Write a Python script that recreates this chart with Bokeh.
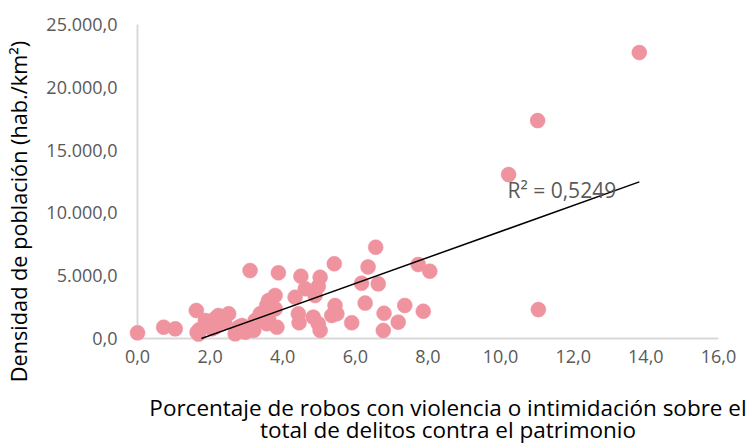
from bokeh.plotting import figure
from bokeh.models import (ColumnDataSource, FixedTicker, CustomJSTickFormatter, Label, Range1d)
from bokeh.embed import file_html
from bokeh.resources import INLINE
import math

# ---- data ----
robos_pct = [0.00, 0.72, 1.04, 1.62, 1.64, 1.68, 1.70, 1.87, 1.95, 2.05, 2.14, 2.14, 2.23, 2.33,
             2.40, 2.51, 2.69, 2.78, 2.88, 2.97, 3.10, 3.20, 3.24, 3.38, 3.56, 3.56, 3.61, 3.61,
             3.79, 3.79, 3.84, 3.88, 4.34, 4.43, 4.45, 4.50, 4.62, 4.84, 4.89, 4.98, 4.98, 5.03,
             5.03, 5.35, 5.42, 5.44, 5.49, 5.90, 6.17, 6.27, 6.35, 6.56, 6.63, 6.77, 6.79, 7.18,
             7.36, 7.73, 7.87, 8.05, 10.22, 11.02, 11.04, 13.82]
densidad = [450, 900, 770, 2230, 500, 350, 700, 1430, 1000, 770, 1590, 900, 1830, 1700,
            1300, 1970, 370, 900, 1030, 500, 5410, 650, 1430, 1970, 2630, 1170, 1570, 3020,
            3420, 2360, 900, 5230, 3290, 1970, 1250, 4960, 3960, 1700, 3420, 4150, 1170, 4880,
            640, 1830, 5950, 2630, 1970, 1250, 4400, 2820, 5700, 7270, 4350, 640, 2010, 1300,
            2630, 5890, 2170, 5360, 13050, 17350, 2300, 22770]

x_ticks = [0, 2, 4, 6, 8, 10, 12, 14, 16]
y_ticks = [0, 5000, 10000, 15000, 20000, 25000]

trend_slope = 1034.0
trend_intercept = -1820.0
r2_text = "R² = 0,5249"

x_title_lines = ["Porcentaje de robos con violencia o intimidación sobre el",
                 "total de delitos contra el patrimonio"]
y_title = "Densidad de población (hab./km²)"

# ---- layout / styling ----
W, H = 752, 446
X0_PX, X_PX_PER_UNIT = 137.0, 36.31     # pixel of x=0, pixels per x unit
Y0_PX, Y_UNITS_PER_PX = 338.0, 79.62    # pixel of y=0, y units per pixel

FONT = "Open Sans"
POINT_COLOR = "#EF939E"
AXIS_COLOR = "#D9D9D9"
TICK_COLOR = "#595959"

x_range = Range1d(-X0_PX / X_PX_PER_UNIT, (W - X0_PX) / X_PX_PER_UNIT)
y_range = Range1d(-(H - Y0_PX) * Y_UNITS_PER_PX, Y0_PX * Y_UNITS_PER_PX)

def xd(px):
    return (px - X0_PX) / X_PX_PER_UNIT

def yd(py):
    return (Y0_PX - py) * Y_UNITS_PER_PX

p = figure(width=W, height=H, output_backend="svg", toolbar_location=None,
           x_range=x_range, y_range=y_range,
           min_border=0, min_border_left=0, min_border_right=0,
           min_border_top=0, min_border_bottom=0)
p.outline_line_color = None
p.xgrid.visible = False
p.ygrid.visible = False
p.background_fill_color = "white"
p.border_fill_color = "white"

# axes placed at the data origin
for ax in (p.xaxis[0], p.yaxis[0]):
    ax.fixed_location = 0
    ax.axis_line_color = None
    ax.major_tick_out = 0
    ax.major_tick_in = 0
    ax.minor_tick_out = 0
    ax.minor_tick_in = 0
    ax.major_label_text_font = FONT
    ax.major_label_text_font_size = "18px"
    ax.major_label_text_color = TICK_COLOR

p.xaxis[0].bounds = (x_ticks[0], x_ticks[-1])
p.yaxis[0].bounds = (y_ticks[0], y_ticks[-1])
p.xaxis[0].ticker = FixedTicker(ticks=x_ticks)
p.yaxis[0].ticker = FixedTicker(ticks=y_ticks)
p.xaxis[0].major_label_standoff = 11
p.yaxis[0].major_label_standoff = 20
p.xaxis[0].formatter = CustomJSTickFormatter(code="return tick.toFixed(1).replace('.', ',');")
p.yaxis[0].formatter = CustomJSTickFormatter(code=r"""
const s = tick.toFixed(1).split('.');
const i = s[0].replace(/\B(?=(\d{3})+(?!\d))/g, '.');
return i + ',' + s[1];
""")

# axis lines (under the points)
p.segment(x0=[x_ticks[0], x_ticks[0]], y0=[y_ticks[0], y_ticks[0]],
          x1=[x_ticks[-1], x_ticks[0]], y1=[y_ticks[0], y_ticks[-1]],
          line_color=AXIS_COLOR, line_width=2)

# points
src = ColumnDataSource(dict(x=robos_pct, y=densidad))
p.scatter("x", "y", source=src, size=15, fill_color=POINT_COLOR, line_color=POINT_COLOR,
          line_width=0.5)

# trend line (clipped at y=0 like the original)
tx0 = -trend_intercept / trend_slope
tx1 = max(robos_pct)
p.line([tx0, tx1], [trend_intercept + trend_slope * tx0, trend_intercept + trend_slope * tx1],
       line_color="black", line_width=1.5)

# R² label
p.add_layout(Label(x=xd(507), y=yd(189), text=r2_text, text_font=FONT, text_font_size="21px",
                   text_color=TICK_COLOR, text_align="left", text_baseline="alphabetic"))

# axis titles
p.add_layout(Label(x=xd(447.5), y=yd(407), text=x_title_lines[0], text_font=FONT,
                   text_font_size="22.5px", text_color="black", text_align="center",
                   text_baseline="alphabetic"))
p.add_layout(Label(x=xd(447.5), y=yd(429), text=x_title_lines[1], text_font=FONT,
                   text_font_size="22.5px", text_color="black", text_align="center",
                   text_baseline="alphabetic"))
p.add_layout(Label(x=xd(18), y=yd(211), text=y_title, text_font=FONT, angle=math.pi / 2,
                   text_font_size="21.7px", text_color="black", text_align="center",
                   text_baseline="middle"))

open("out.html", "w").write(file_html(p, INLINE))
